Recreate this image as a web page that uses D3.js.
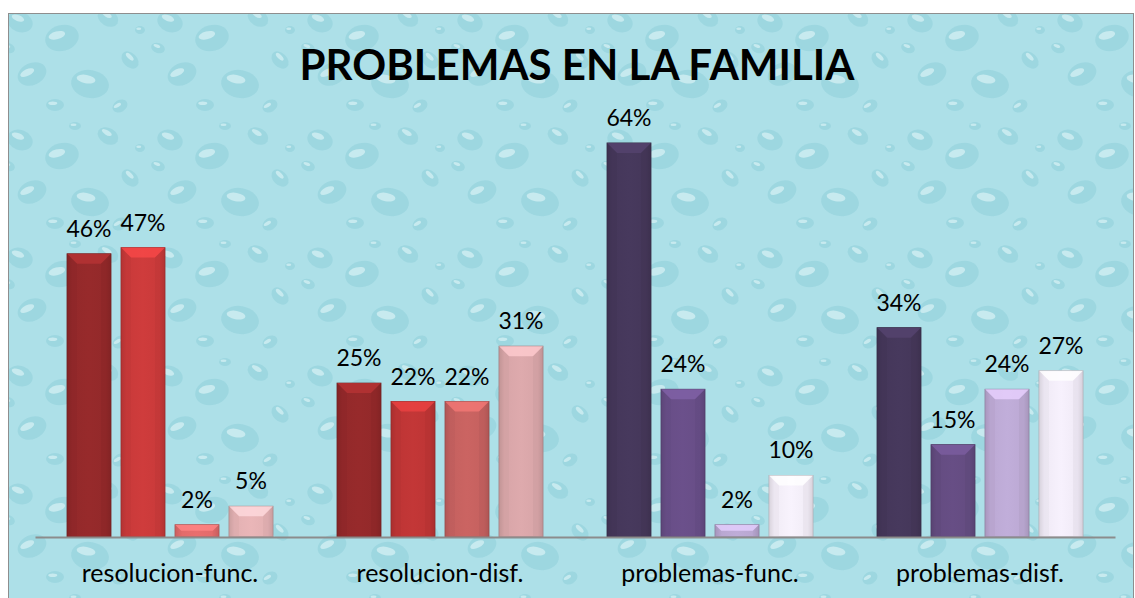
<!DOCTYPE html>
<html><head><meta charset="utf-8">
<script src="https://cdn.jsdelivr.net/npm/d3@7"></script>
<style>html,body{margin:0;padding:0;background:#fff;}svg{display:block;}</style>
</head><body>
<script>
const title = "PROBLEMAS EN LA FAMILIA";
const categories = ["resolucion-func.", "resolucion-disf.", "problemas-func.", "problemas-disf."];
const seriesNames = ["s1", "s2", "s3", "s4"];
const values = [
  [0.46, 0.47, 0.02, 0.05],
  [0.25, 0.22, 0.22, 0.31],
  [0.64, 0.24, 0.02, 0.10],
  [0.34, 0.15, 0.24, 0.27]
];
const barColors = [
  ["#93292A", "#C93A3A", "#E26B6B", "#E3B1B3"],
  ["#93292A", "#BE3535", "#C5615F", "#D8A5A8"],
  ["#45375A", "#684E87", "#B9A7D1", "#F1ECF6"],
  ["#45375A", "#644C81", "#BCA9D4", "#F0EAF6"]
];
const yTicks = [0, 0.1, 0.2, 0.3, 0.4, 0.5, 0.6, 0.7];

const W = 1135, H = 598;
const FONT = "Lato, 'Open Sans', sans-serif";
const svg = d3.select("body").append("svg").attr("width", W).attr("height", H);
const defs = svg.append("defs");

// water-drop like pattern
const pat = defs.append("pattern").attr("id","drops").attr("patternUnits","userSpaceOnUse")
  .attr("width",150).attr("height",118);
pat.append("rect").attr("width",150).attr("height",118).attr("fill","#ADE0E8");
const dropsSpec = [[20,22,13,10,20],[62,38,17,13,-15],[108,18,11,8,30],[32,74,15,11,-25],[90,84,19,14,10],[130,60,10,7,45],[55,105,9,6,0],[8,48,7,5,20],[120,106,8,6,-30],[75,8,6,4,0],[140,30,5,4,0]];
dropsSpec.forEach(d=>{
  const g = pat.append("g").attr("transform",`translate(${d[0]},${d[1]}) rotate(${d[4]})`);
  g.append("ellipse").attr("rx",d[2]).attr("ry",d[3]).attr("fill","#8ACCD8").attr("opacity",0.45);
  g.append("ellipse").attr("cx",-d[2]*0.25).attr("cy",-d[3]*0.3).attr("rx",d[2]*0.5).attr("ry",d[3]*0.3)
    .attr("fill","#E2F6F9").attr("opacity",0.6);
});

svg.append("rect").attr("x",8.5).attr("y",13.5).attr("width",W-10).attr("height",H)
  .attr("fill","url(#drops)").attr("stroke","#8E8E8E").attr("stroke-width",1);

const plotTop = 106, baseY = 537, plotLeft = 35, plotRight = 1115;

const x0 = d3.scaleBand().domain(categories).range([plotLeft, plotRight]).paddingInner(0).paddingOuter(0);
const x1 = d3.scaleBand().domain(seriesNames).range([32, 270-32]).paddingInner(10/54).paddingOuter(0);
const y = d3.scaleLinear().domain([0, 0.7]).range([baseY, plotTop]);

// title
svg.append("text").attr("x", 577).attr("y", 80).attr("text-anchor","middle")
  .attr("font-family",FONT).attr("font-weight","bold").attr("font-size",42)
  .attr("fill","#000").text(title);

function shade(c, k){ return d3.color(c).darker(k).formatHex(); }
function light(c, k){ return d3.color(c).brighter(k).formatHex(); }

const groups = svg.append("g");
categories.forEach((cat, gi)=>{
  const g = groups.append("g").attr("transform", `translate(${x0(cat)},0)`);
  seriesNames.forEach((s, si)=>{
    const v = values[gi][si];
    const col = barColors[gi][si];
    const gid = `grad${gi}_${si}`;
    const lg = defs.append("linearGradient").attr("id",gid).attr("x1","0").attr("x2","1").attr("y1","0").attr("y2","0");
    lg.append("stop").attr("offset","0").attr("stop-color",shade(col,0.35));
    lg.append("stop").attr("offset","0.12").attr("stop-color",col);
    lg.append("stop").attr("offset","0.5").attr("stop-color",light(col,0.08));
    lg.append("stop").attr("offset","0.88").attr("stop-color",col);
    lg.append("stop").attr("offset","1").attr("stop-color",shade(col,0.35));
    const bx = x1(s), bw = x1.bandwidth(), by = y(v), bh = y(0) - y(v);
    g.append("rect").attr("x",bx).attr("y",by).attr("width",bw).attr("height",bh)
      .attr("fill",`url(#${gid})`).attr("stroke",shade(col,0.9)).attr("stroke-width",0.8);
    const bev = Math.min(10, bh/2);
    g.append("path").attr("d", `M${bx},${by} L${bx+bw},${by} L${bx+bw-bev},${by+bev} L${bx+bev},${by+bev} Z`)
      .attr("fill", light(col,0.6)).attr("opacity",0.8);
    g.append("path").attr("d", `M${bx},${by} L${bx+bev},${by+bev} L${bx+bev},${by+bh} L${bx},${by+bh} Z`)
      .attr("fill", shade(col,0.2)).attr("opacity",0.3);
    g.append("path").attr("d", `M${bx+bw},${by} L${bx+bw-bev},${by+bev} L${bx+bw-bev},${by+bh} L${bx+bw},${by+bh} Z`)
      .attr("fill", shade(col,0.3)).attr("opacity",0.3);
    g.append("text").attr("x", bx + bw/2).attr("y", by - 17).attr("text-anchor","middle")
      .attr("font-family",FONT).attr("font-size",23).attr("fill","#000")
      .text(d3.format(".0%")(v));
  });
});

// axis
const xAxis = svg.append("g").attr("transform",`translate(0,${baseY})`)
  .call(d3.axisBottom(x0).tickSize(0).tickPadding(0));
xAxis.select(".domain").attr("stroke","#8C8C8C").attr("stroke-width",2);
xAxis.selectAll("text").attr("font-family",FONT).attr("font-size",25).attr("fill","#000")
  .attr("dy",null).attr("y",45);
</script>
</body></html>
